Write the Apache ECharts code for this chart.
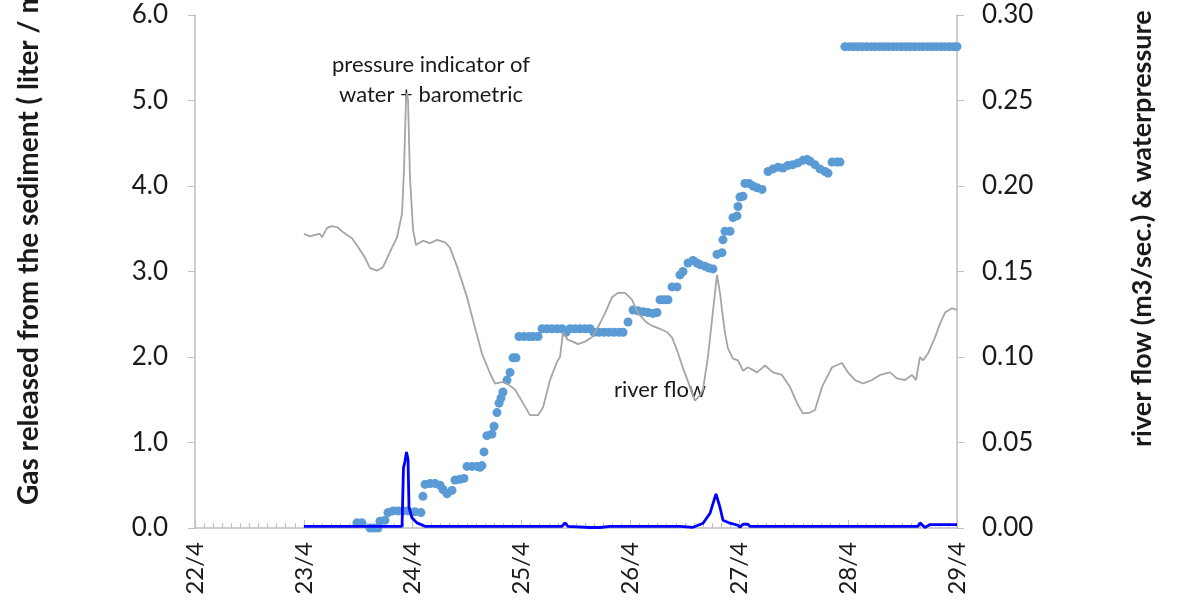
<!DOCTYPE html>
<html>
<head>
<meta charset="utf-8">
<script src="https://cdn.jsdelivr.net/npm/echarts@6/dist/echarts.min.js"></script>
<style>
  html, body { margin: 0; padding: 0; background: #fff; }
  #chart { width: 1191px; height: 601px; }
</style>
</head>
<body>
<div id="chart"></div>
<script>
// x values are days of April (22 = 22/4 00:00)
var dayTicks = [22, 29];

// gas released (left axis, liter / m2)
var gasPoints = [
  [23.488, 0.06], [23.534, 0.06], [23.608, 0.0], [23.644, 0.0], [23.681, 0.0],
  [23.699, 0.08], [23.745, 0.09], [23.773, 0.18], [23.819, 0.2], [23.865, 0.2],
  [23.911, 0.2], [23.957, 0.2], [24.021, 0.19], [24.076, 0.18], [24.094, 0.37],
  [24.113, 0.51], [24.159, 0.52], [24.205, 0.52], [24.251, 0.5], [24.278, 0.45],
  [24.315, 0.4], [24.361, 0.44], [24.388, 0.56], [24.434, 0.57], [24.471, 0.58],
  [24.499, 0.72], [24.545, 0.72], [24.590, 0.72], [24.618, 0.71], [24.636, 0.73],
  [24.655, 0.89], [24.682, 1.08], [24.728, 1.1], [24.747, 1.19], [24.774, 1.35],
  [24.793, 1.46], [24.811, 1.52], [24.829, 1.59], [24.866, 1.73], [24.894, 1.82],
  [24.921, 1.99], [24.949, 1.99], [24.976, 2.24], [25.022, 2.24], [25.068, 2.24],
  [25.105, 2.24], [25.151, 2.24], [25.188, 2.33], [25.234, 2.33], [25.279, 2.33],
  [25.325, 2.33], [25.371, 2.33], [25.408, 2.29], [25.445, 2.33], [25.491, 2.33],
  [25.537, 2.33], [25.583, 2.33], [25.629, 2.33], [25.665, 2.29], [25.711, 2.29],
  [25.757, 2.29], [25.803, 2.29], [25.849, 2.29], [25.895, 2.29], [25.932, 2.29],
  [25.978, 2.41], [26.024, 2.55], [26.069, 2.54], [26.115, 2.53], [26.161, 2.52],
  [26.207, 2.51], [26.244, 2.52], [26.272, 2.67], [26.308, 2.67], [26.345, 2.67],
  [26.382, 2.82], [26.428, 2.82], [26.455, 2.96], [26.483, 3.0], [26.529, 3.1],
  [26.575, 3.13], [26.611, 3.1], [26.639, 3.08], [26.685, 3.06], [26.722, 3.04],
  [26.758, 3.03], [26.795, 3.2], [26.841, 3.22], [26.850, 3.37], [26.869, 3.47],
  [26.915, 3.47], [26.942, 3.63], [26.979, 3.65], [26.988, 3.76], [27.006, 3.87],
  [27.034, 3.88], [27.052, 4.03], [27.089, 4.03], [27.126, 4.0], [27.163, 3.98],
  [27.209, 3.96], [27.264, 4.17], [27.310, 4.2], [27.356, 4.22], [27.401, 4.21],
  [27.447, 4.24], [27.493, 4.25], [27.539, 4.27], [27.585, 4.3], [27.622, 4.31],
  [27.650, 4.29], [27.695, 4.25], [27.741, 4.2], [27.787, 4.17], [27.815, 4.15],
  [27.852, 4.28], [27.898, 4.28], [27.925, 4.28],
  [27.97, 5.63], [28.01, 5.63], [28.05, 5.63], [28.09, 5.63], [28.13, 5.63],
  [28.17, 5.63], [28.21, 5.63], [28.25, 5.63], [28.29, 5.63], [28.33, 5.63],
  [28.37, 5.63], [28.41, 5.63], [28.45, 5.63], [28.49, 5.63], [28.53, 5.63],
  [28.57, 5.63], [28.61, 5.63], [28.65, 5.63], [28.69, 5.63], [28.73, 5.63],
  [28.77, 5.63], [28.81, 5.63], [28.85, 5.63], [28.89, 5.63], [28.93, 5.63],
  [28.97, 5.63], [29.0, 5.63]
];

// water + barometric pressure indicator (right axis)
var pressurePoints = [
  [23.0, 0.172], [23.056, 0.1705], [23.112, 0.1715], [23.148, 0.172], [23.167, 0.170],
  [23.213, 0.1755], [23.258, 0.1765], [23.304, 0.176], [23.360, 0.173], [23.442, 0.1695],
  [23.497, 0.1645], [23.562, 0.158], [23.608, 0.152], [23.672, 0.1505], [23.727, 0.1525],
  [23.791, 0.1615], [23.856, 0.170], [23.902, 0.184], [23.920, 0.2095], [23.938, 0.250],
  [23.947, 0.2545], [23.957, 0.250], [23.975, 0.205], [24.003, 0.1745], [24.030, 0.1655],
  [24.048, 0.1665], [24.094, 0.168], [24.159, 0.1665], [24.223, 0.1685], [24.297, 0.167],
  [24.342, 0.164], [24.407, 0.153], [24.499, 0.135], [24.554, 0.1215], [24.636, 0.102],
  [24.710, 0.0905], [24.756, 0.0845], [24.829, 0.0855], [24.875, 0.084], [24.940, 0.081],
  [25.013, 0.073], [25.077, 0.066], [25.151, 0.066], [25.197, 0.0705], [25.261, 0.0865],
  [25.325, 0.097], [25.353, 0.100], [25.381, 0.1145], [25.426, 0.110], [25.472, 0.109],
  [25.518, 0.1075], [25.583, 0.109], [25.647, 0.1115], [25.702, 0.1175], [25.766, 0.1255],
  [25.831, 0.135], [25.886, 0.1375], [25.950, 0.1375], [26.014, 0.1335], [26.069, 0.1255],
  [26.152, 0.120], [26.207, 0.118], [26.272, 0.1165], [26.336, 0.1145], [26.382, 0.1115],
  [26.428, 0.104], [26.483, 0.0935], [26.547, 0.0825], [26.593, 0.0745], [26.639, 0.0775],
  [26.667, 0.081], [26.712, 0.100], [26.749, 0.1215], [26.795, 0.148], [26.823, 0.1375],
  [26.841, 0.1275], [26.869, 0.114], [26.896, 0.105], [26.942, 0.099], [26.988, 0.098],
  [27.034, 0.092], [27.080, 0.094], [27.163, 0.091], [27.236, 0.095], [27.310, 0.091],
  [27.392, 0.0895], [27.466, 0.0825], [27.530, 0.073], [27.585, 0.067], [27.650, 0.0675],
  [27.695, 0.069], [27.760, 0.0825], [27.852, 0.094], [27.943, 0.0965], [27.999, 0.091],
  [28.063, 0.0865], [28.136, 0.0845], [28.219, 0.0865], [28.293, 0.0895], [28.384, 0.091],
  [28.449, 0.0875], [28.522, 0.0865], [28.587, 0.0895], [28.623, 0.0865], [28.660, 0.100],
  [28.688, 0.098], [28.733, 0.102], [28.798, 0.1115], [28.844, 0.1195], [28.890, 0.126],
  [28.954, 0.1285], [29.0, 0.1275]
];

// river flow (right axis, m3/sec.)
var flowPoints = [
  [23.0, 0.001], [23.902, 0.001], [23.915, 0.035], [23.929, 0.039], [23.943, 0.0445],
  [23.957, 0.040], [23.966, 0.012], [23.993, 0.006], [24.039, 0.003], [24.113, 0.001],
  [25.371, 0.001], [25.399, 0.003], [25.426, 0.001], [25.629, 0.0003], [25.720, 0.0003],
  [25.812, 0.001], [26.455, 0.001], [26.575, 0.0004], [26.667, 0.0028], [26.731, 0.0086],
  [26.786, 0.020], [26.823, 0.012], [26.850, 0.0045], [26.915, 0.0028], [26.988, 0.0016],
  [27.006, 0.0004], [27.034, 0.0022], [27.080, 0.0022], [27.098, 0.001], [28.642, 0.001],
  [28.660, 0.003], [28.706, 0.0003], [28.752, 0.002], [29.0, 0.002]
];

var leftTitle = "Gas released from the sediment ( liter / m2 )";
var rightTitle = "river flow (m3/sec.) & waterpressure";

var chart = echarts.init(document.getElementById("chart"));
var axisGrey = "#BFBFBF";
var textColor = "#1a1a1a";

var option = {
  animation: false,
  textStyle: { fontFamily: "Lato" },
  grid: { left: 195, right: 234, top: 15, bottom: 73, containLabel: false },
  xAxis: {
    type: "value",
    min: dayTicks[0],
    max: dayTicks[1],
    interval: 1,
    axisLine: { lineStyle: { color: axisGrey, width: 1.5 } },
    axisTick: { inside: true, length: 8, lineStyle: { color: axisGrey } },
    minorTick: { show: true, splitNumber: 12, length: 5, lineStyle: { color: axisGrey } },
    splitLine: { show: false },
    axisLabel: {
      rotate: 90,
      margin: 14,
      fontSize: 24,
      color: textColor,
      formatter: function(v) {
        return v + "/4";
      }
    }
  },
  yAxis: [
    {
      type: "value",
      position: "left",
      min: 0,
      max: 6,
      interval: 1,
      axisLine: { show: true, lineStyle: { color: axisGrey, width: 1.5 } },
      axisTick: { show: true, length: 7, lineStyle: { color: axisGrey } },
      splitLine: { show: false },
      axisLabel: {
        margin: 27,
        fontSize: 26,
        color: textColor,
        formatter: function(v) {
          return v.toFixed(1);
        }
      }
    },
    {
      type: "value",
      position: "right",
      min: 0,
      max: 0.3,
      interval: 0.05,
      axisLine: { show: true, lineStyle: { color: axisGrey, width: 1.5 } },
      axisTick: { show: true, length: 7, lineStyle: { color: axisGrey } },
      splitLine: { show: false },
      axisLabel: {
        margin: 25,
        fontSize: 26,
        color: textColor,
        formatter: function(v) {
          return v.toFixed(2);
        }
      }
    }
  ],
  series: [
    {
      name: "gas",
      type: "scatter",
      yAxisIndex: 0,
      data: gasPoints,
      symbol: "circle",
      symbolSize: 9,
      itemStyle: { color: "#5B9BD5", opacity: 1 }
    },
    {
      name: "pressure",
      type: "line",
      yAxisIndex: 1,
      data: pressurePoints,
      showSymbol: false,
      lineStyle: { color: "#A5A5A5", width: 1.8 }
    },
    {
      name: "river flow",
      type: "line",
      yAxisIndex: 1,
      data: flowPoints,
      showSymbol: false,
      lineStyle: { color: "#0000FF", width: 2.8 }
    }
  ],
  graphic: [
    {
      type: "text",
      x: 431,
      y: 80,
      style: {
        text: "pressure indicator of\nwater + barometric",
        align: "center",
        verticalAlign: "middle",
        font: "22px Lato",
        lineHeight: 30,
        fill: textColor
      }
    },
    {
      type: "text",
      x: 660,
      y: 390,
      style: {
        text: "river flow",
        align: "center",
        verticalAlign: "middle",
        font: "22px Lato",
        fill: textColor
      }
    },
    {
      type: "text",
      x: 29,
      y: 505,
      rotation: Math.PI / 2,
      style: {
        text: leftTitle,
        align: "left",
        verticalAlign: "middle",
        font: "bold 28px Lato",
        fill: textColor
      }
    },
    {
      type: "text",
      x: 1142,
      y: 447,
      rotation: Math.PI / 2,
      style: {
        text: rightTitle,
        align: "left",
        verticalAlign: "middle",
        font: "bold 27px Lato",
        fill: textColor
      }
    }
  ]
};

chart.setOption(option);
</script>
</body>
</html>
